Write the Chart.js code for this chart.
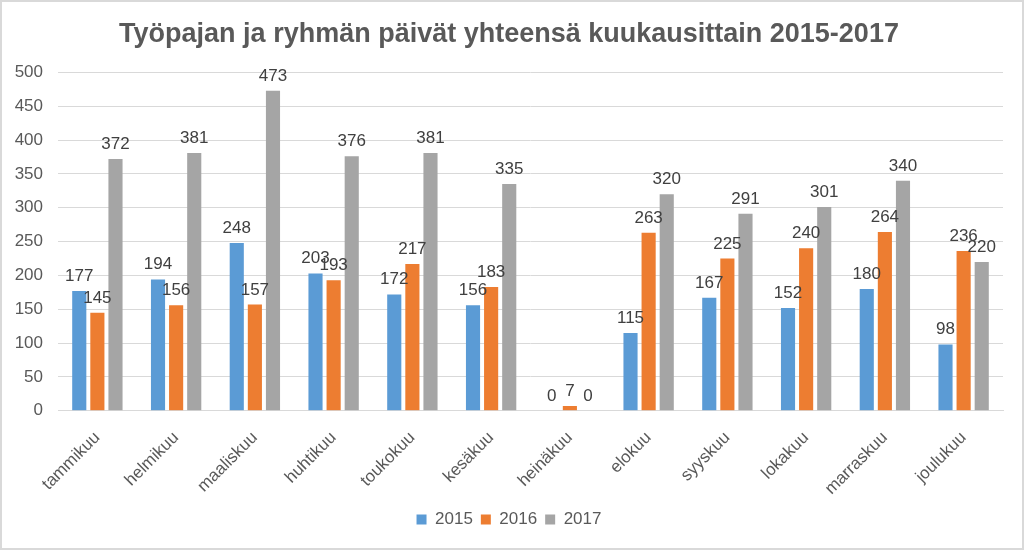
<!DOCTYPE html>
<html><head><meta charset="utf-8">
<script src="https://cdn.jsdelivr.net/npm/chart.js@4"></script>
<style>
html,body{margin:0;padding:0;background:#fff;}
#wrap{position:absolute;left:0;top:0;width:1020px;height:546px;border:2px solid #d9d9d9;background:#fff;}
canvas{display:block;}
</style></head>
<body><div id="wrap"><canvas id="c" width="1020" height="546"></canvas></div>
<script>
const categories = ["tammikuu","helmikuu","maaliskuu","huhtikuu","toukokuu","kesäkuu","heinäkuu","elokuu","syyskuu","lokakuu","marraskuu","joulukuu"];
const v2015 = [177,194,248,203,172,156,0,115,167,152,180,98];
const v2016 = [145,156,157,193,217,183,7,263,225,240,264,236];
const v2017 = [372,381,473,376,381,335,0,320,291,301,340,220];
const seriesLabels = ["2015","2016","2017"];
const yTicks = [0,50,100,150,200,250,300,350,400,450,500];

const FONT = '"Liberation Sans", Arial, sans-serif';
const labelPlugin = {
  id:'vals',
  afterDatasetsDraw(chart){
    const ctx = chart.ctx;
    ctx.save();
    ctx.font = '17px ' + FONT;
    ctx.fillStyle = '#404040';
    ctx.textAlign = 'center';
    ctx.textBaseline = 'alphabetic';
    chart.data.datasets.forEach((ds,i)=>{
      chart.getDatasetMeta(i).data.forEach((bar,j)=>{
        ctx.fillText(String(ds.data[j]), bar.x, bar.y - 10);
      });
    });
    ctx.restore();
  }
};

new Chart(document.getElementById('c'), {
  type:'bar',
  data:{
    labels:categories,
    datasets:[
      {label:seriesLabels[0], data:v2015, backgroundColor:'#5b9bd5'},
      {label:seriesLabels[1], data:v2016, backgroundColor:'#ed7d31'},
      {label:seriesLabels[2], data:v2017, backgroundColor:'#a5a5a5'}
    ]
  },
  options:{
    responsive:false, animation:false,
    layout:{padding:{left:13,right:19,top:8,bottom:10}},
    datasets:{bar:{categoryPercentage:0.69,barPercentage:0.78}},
    plugins:{
      title:{display:true,text:'Työpajan ja ryhmän päivät yhteensä kuukausittain 2015-2017',
        color:'#595959',font:{family:FONT,size:27,weight:'bold'},padding:{top:8,bottom:22}},
      legend:{position:'bottom',labels:{boxWidth:10,boxHeight:10,color:'#595959',font:{family:FONT,size:17},padding:8}},
      tooltip:{enabled:false}
    },
    scales:{
      x:{grid:{display:false},border:{color:'#d9d9d9'},
        afterFit(s){s.paddingLeft=0;s.paddingRight=0;s.height-=5;},
        ticks:{color:'#595959',font:{family:FONT,size:17},minRotation:45,maxRotation:45,padding:9}},
      y:{min:0,max:500,afterBuildTicks(s){s.ticks=yTicks.map(v=>({value:v}));},
        afterFit(s){s.width=43;},
        grid:{color:'#d9d9d9',drawTicks:false},border:{display:false},
        ticks:{color:'#595959',font:{family:FONT,size:17},padding:15}}
    }
  },
  plugins:[labelPlugin]
});
</script></body></html>
